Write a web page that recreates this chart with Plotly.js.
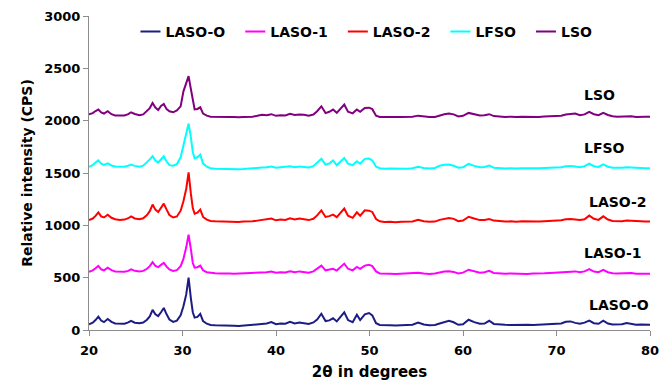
<!DOCTYPE html>
<html>
<head>
<meta charset="utf-8">
<script src="https://cdn.plot.ly/plotly-3.0.1.min.js"></script>
<style>
html,body{margin:0;padding:0;background:#fff;}
#chart{width:661px;height:382px;}
</style>
</head>
<body>
<div id="chart"></div>
<script>
// 2-theta sample positions (degrees)
const twoTheta = [
  20.0, 20.4, 20.7, 21.0, 21.3, 21.6, 22.0, 22.4, 22.8, 23.3,
  23.8, 24.2, 24.5, 24.9, 25.4, 25.8, 26.2, 26.5, 26.8, 27.1,
  27.4, 27.7, 28.0, 28.3, 28.6, 29.0, 29.4, 29.8, 30.1, 30.4,
  30.65, 30.9, 31.1, 31.3, 31.6, 31.9, 32.2, 32.6, 33.0, 33.5,
  34.0, 34.5, 35.0, 35.5, 36.0, 36.5, 37.0, 37.5, 38.0, 38.5,
  39.0, 39.5, 40.0, 40.5, 41.0, 41.5, 42.0, 42.5, 43.0, 43.5,
  44.0, 44.4, 44.85, 45.3, 45.7, 46.1, 46.5, 46.9, 47.3, 47.7,
  48.2, 48.65, 49.0, 49.5, 49.95, 50.3, 50.7, 51.1, 51.6, 52.2,
  52.8, 53.4, 54.0, 54.6, 55.2, 55.8, 56.4, 57.0, 57.5, 58.0,
  58.5, 59.0, 59.5, 60.0, 60.6, 61.2, 61.8, 62.3, 62.8, 63.3,
  63.9, 64.5, 65.1, 65.7, 66.3, 66.9, 67.5, 68.1, 68.7, 69.3,
  69.9, 70.5, 71.0, 71.5, 72.0, 72.5, 73.0, 73.5, 74.0, 74.5,
  75.0, 75.5, 76.0, 76.5, 77.0, 77.5, 78.0, 78.5, 79.0, 79.5,
  80.0
];

const lasoO = [
  55, 70, 95, 128, 90, 75, 105, 78, 62, 58,
  60, 72, 88, 70, 64, 72, 98, 130, 192, 150,
  132, 170, 210, 150, 100, 78, 90, 140, 226, 340,
  500, 300, 170, 118, 125, 155, 85, 60, 48, 45,
  42, 40, 42, 40, 38, 42, 40, 45, 52, 58,
  62, 75, 55, 62, 60, 78, 62, 72, 66, 58,
  72, 100, 155, 85, 92, 112, 82, 120, 168, 95,
  75, 145, 95, 150, 162, 140, 65, 48, 44, 45,
  42, 45, 44, 50, 70, 52, 45, 48, 62, 75,
  88, 74, 50, 55, 98, 75, 60, 62, 88, 58,
  52, 50, 48, 50, 46, 50, 48, 52, 50, 54,
  58, 62, 78, 82, 68, 60, 70, 90, 65, 60,
  90, 62, 52, 50, 55, 66, 58, 50, 52, 50,
  50
];

const laso1 = [
  555, 570, 590, 612, 580, 570, 595, 572, 560, 555,
  556, 565, 580, 565, 558, 565, 585, 610, 648, 612,
  600, 622, 642, 605, 578, 565, 572, 610, 680, 790,
  910, 770, 640, 595, 600, 615, 570, 552, 545, 543,
  540, 542, 540, 538, 540, 538, 542, 540, 545, 550,
  552, 558, 548, 552, 550, 562, 552, 560, 555, 548,
  560, 590, 615, 570, 575, 585, 568, 600, 634, 585,
  570, 602, 585, 615, 624, 610, 560, 540, 536, 538,
  535, 538, 536, 540, 548, 540, 536, 540, 550, 558,
  562, 555, 540, 548, 576, 560, 548, 552, 565, 545,
  540, 538, 540, 538, 540, 536, 540, 538, 542, 545,
  548, 550, 558, 562, 560, 552, 560, 582, 558, 552,
  575, 552, 542, 540, 542, 548, 545, 538, 540, 538,
  538
];

const laso2 = [
  1050, 1065, 1090, 1124, 1085, 1075, 1102, 1072, 1058, 1052,
  1055, 1068, 1086, 1066, 1058, 1068, 1098, 1135, 1198, 1150,
  1128, 1170, 1207, 1150, 1098, 1075, 1085, 1140, 1230, 1350,
  1507, 1300, 1165, 1110, 1120, 1150, 1080, 1055, 1042, 1038,
  1036, 1034, 1036, 1034, 1032, 1036, 1034, 1038, 1045, 1050,
  1055, 1065, 1048, 1055, 1052, 1068, 1055, 1064, 1058, 1050,
  1062, 1095, 1143, 1080, 1088, 1102, 1078, 1115, 1160, 1092,
  1072, 1124, 1092, 1143, 1140, 1128, 1060, 1038, 1032, 1034,
  1030, 1034, 1032, 1036, 1054, 1040, 1034, 1036, 1052, 1064,
  1071, 1062, 1040, 1046, 1082, 1065, 1050, 1052, 1061, 1045,
  1038, 1036, 1038, 1034, 1038, 1035, 1038, 1036, 1040, 1042,
  1046, 1048, 1058, 1061, 1056, 1050, 1058, 1093, 1062, 1052,
  1086, 1055, 1042, 1038, 1040, 1046, 1042, 1036, 1038, 1036,
  1036
];

const lfso = [
  1560, 1575, 1600, 1621, 1590, 1578, 1592, 1572, 1562, 1558,
  1560, 1570, 1580, 1568, 1560, 1570, 1600, 1630, 1660, 1620,
  1600, 1630, 1660, 1610, 1575, 1570, 1585, 1650, 1760, 1880,
  1972, 1840, 1700, 1640, 1650, 1676, 1590, 1560, 1545, 1540,
  1538, 1536, 1540, 1538, 1536, 1538, 1540, 1542, 1548, 1552,
  1556, 1562, 1550, 1556, 1560, 1565, 1555, 1562, 1558, 1552,
  1565, 1595, 1635, 1580, 1590, 1621, 1575, 1610, 1644, 1590,
  1575, 1612, 1590, 1635, 1638, 1620, 1560, 1545, 1540, 1542,
  1540, 1542, 1540, 1545, 1560, 1548, 1542, 1548, 1570, 1578,
  1582, 1570, 1550, 1555, 1588, 1568, 1555, 1558, 1572, 1550,
  1546, 1544, 1546, 1542, 1546, 1544, 1546, 1545, 1548, 1550,
  1554, 1556, 1565, 1568, 1562, 1556, 1565, 1590, 1565, 1558,
  1582, 1560, 1550, 1548, 1550, 1555, 1552, 1546, 1548, 1546,
  1546
];

const lso = [
  2060, 2072, 2092, 2106, 2078, 2068, 2090, 2062, 2050, 2048,
  2050, 2062, 2080, 2064, 2052, 2060, 2090, 2120, 2168, 2125,
  2102, 2140, 2160, 2110, 2090, 2080, 2098, 2137, 2280, 2360,
  2425, 2300, 2180, 2108, 2112, 2128, 2068, 2048, 2038, 2036,
  2034, 2036, 2034, 2036, 2032, 2036, 2034, 2038, 2046, 2056,
  2052, 2062, 2046, 2052, 2050, 2066, 2054, 2060, 2056, 2048,
  2058, 2090, 2137, 2072, 2085, 2106, 2075, 2110, 2154, 2085,
  2070, 2106, 2085, 2122, 2124, 2110, 2048, 2036, 2034, 2036,
  2034, 2036, 2034, 2038, 2048, 2040, 2034, 2036, 2050, 2062,
  2068, 2060, 2040, 2046, 2074, 2062, 2050, 2052, 2062, 2044,
  2038, 2036, 2038, 2034, 2038, 2035, 2038, 2036, 2040, 2042,
  2046, 2048, 2058, 2062, 2068, 2052, 2060, 2084, 2062, 2052,
  2074, 2054, 2042, 2038, 2040, 2046, 2042, 2036, 2040, 2038,
  2038
];

const seriesNames = ['LASO-O', 'LASO-1', 'LASO-2', 'LFSO', 'LSO'];
const seriesValues = [lasoO, laso1, laso2, lfso, lso];
const seriesColors = ['#1c1c84', '#ff00ff', '#ff0000', '#00ffff', '#800080'];

// side labels: text, x (deg), y (CPS)
const labelTexts = ['LSO', 'LFSO', 'LASO-2', 'LASO-1', 'LASO-O'];
const labelX = [74.6, 75.1, 76.6, 76.0, 76.7];
const labelY = [2250, 1740, 1222, 739, 235];

const FONT = 'DejaVu Sans, Arial, sans-serif';

const traces = seriesNames.map((n, i) => ({
  type: 'scatter', mode: 'lines', name: n,
  x: twoTheta, y: seriesValues[i],
  line: {color: seriesColors[i], width: 2},
  hoverinfo: 'skip'
}));

const annotations = labelTexts.map((t, i) => ({
  x: labelX[i], y: labelY[i], xref: 'x', yref: 'y',
  text: '<b>' + t + '</b>', showarrow: false,
  font: {family: FONT, size: 14, color: '#000'}
}));

const layout = {
  width: 661, height: 382,
  margin: {l: 89, r: 11, t: 16, b: 52},
  paper_bgcolor: '#fff', plot_bgcolor: '#fff',
  font: {family: FONT, color: '#000'},
  showlegend: true,
  legend: {
    orientation: 'h', x: 0.065, y: 1.0, xanchor: 'left', yanchor: 'top',
    font: {family: FONT, size: 14, color: '#000', weight: 'bold'},
    bgcolor: 'rgba(0,0,0,0)', itemwidth: 30, tracegroupgap: 0
  },
  xaxis: {
    range: [20, 80], tickvals: [20, 30, 40, 50, 60, 70, 80],
    showgrid: false, zeroline: false,
    showline: true, linecolor: '#8c8c8c', linewidth: 1,
    ticks: 'outside', ticklen: 5, tickcolor: '#8c8c8c',
    ticklabelstandoff: 3,
    tickfont: {family: FONT, size: 13, color: '#000', weight: 'bold'},
    title: {text: '<b>2θ in degrees</b>', font: {family: FONT, size: 15, color: '#000'}, standoff: 9}
  },
  yaxis: {
    range: [0, 3000], tickvals: [0, 500, 1000, 1500, 2000, 2500, 3000],
    showgrid: false, zeroline: false,
    showline: true, linecolor: '#8c8c8c', linewidth: 1,
    ticks: 'outside', ticklen: 5, tickcolor: '#8c8c8c',
    tickfont: {family: FONT, size: 13, color: '#000', weight: 'bold'},
    title: {text: '<b>Relative intensity (CPS)</b>', font: {family: FONT, size: 14, color: '#000'}, standoff: 8}
  },
  annotations: annotations
};

Plotly.newPlot('chart', traces, layout, {staticPlot: true, displayModeBar: false}).then(gd => {
  // shorter legend line samples, as in the original figure
  gd.querySelectorAll('.legendlines path').forEach(p => p.setAttribute('d', 'M15,0h20'));
});
</script>
</body>
</html>
